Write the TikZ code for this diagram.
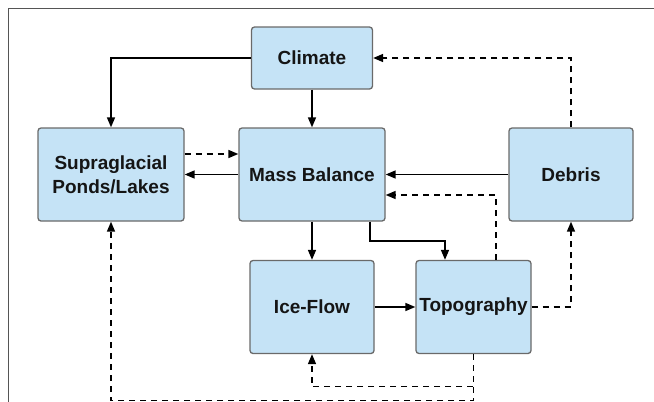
\documentclass[tikz,border=0pt]{standalone}
\usepackage{fontspec}
\setmainfont{Liberation Sans}
\usetikzlibrary{arrows.meta,calc}
\definecolor{boxfill}{HTML}{C5E3F6}
\definecolor{boxline}{HTML}{6A6A6A}
\definecolor{framec}{HTML}{555555}
\definecolor{txt}{HTML}{151515}
\tikzset{
  boxnode/.style={draw=boxline, line width=1.3pt, fill=boxfill, rounded corners=3pt,
    inner sep=0pt, align=center, text=txt,
    font=\fontsize{19}{24}\selectfont\bfseries},
  conn/.style={line width=1.6pt, draw=black, -{Triangle[length=10pt,width=8pt]}},
  dconn/.style={conn, dash pattern=on 6pt off 5pt},
}
\begin{document}
\begin{tikzpicture}[x=1pt,y=-1pt]
\useasboundingbox (0,0) rectangle (654,402);
\draw[framec, line width=1pt] (8,402) -- (8,8) -- (654,8);
\node[boxnode, minimum width=121pt, minimum height=62pt] (clim) at (312,58) {Climate};
\node[boxnode, minimum width=146pt, minimum height=93pt] (sup) at (111,174.5) {Supraglacial\\Ponds/Lakes};
\node[boxnode, minimum width=146pt, minimum height=93pt] (mb) at (312,174.5) {Mass Balance};
\node[boxnode, minimum width=124pt, minimum height=93pt] (deb) at (571,174.5) {Debris};
\node[boxnode, minimum width=124pt, minimum height=93pt] (ice) at (312,307) {Ice-Flow};
\node[boxnode, minimum width=115pt, minimum height=93pt] (topo) at (473.5,307) {Topography};
% solid
\draw[conn] (clim.west) -| (sup.north);
\draw[conn] (clim.south) -- (mb.north);
\draw[conn] (mb.west) -- (sup.east);
\draw[conn] (deb.west) -- (mb.east);
\draw[conn] (mb.south) -- (ice.north);
\draw[conn] ([xshift=58pt]mb.south) -- ++(0,19.5) -| ([xshift=-28.5pt]topo.north);
\draw[conn] (ice.east) -- (topo.west);
% dashed
\draw[dconn] ([yshift=20.5pt]sup.east) -- ([yshift=20.5pt]mb.west);
\draw[dconn] (deb.north) |- (clim.east);
\draw[dconn] ([xshift=22.5pt]topo.north) |- ([yshift=-20.5pt]mb.east);
\draw[dconn] (topo.east) -| (deb.south);
\draw[dconn] (topo.south) -- ++(0,32.5) -| (ice.south);
\draw[dconn] (topo.south) -- ++(0,46.5) -| (sup.south);
\end{tikzpicture}
\end{document}
